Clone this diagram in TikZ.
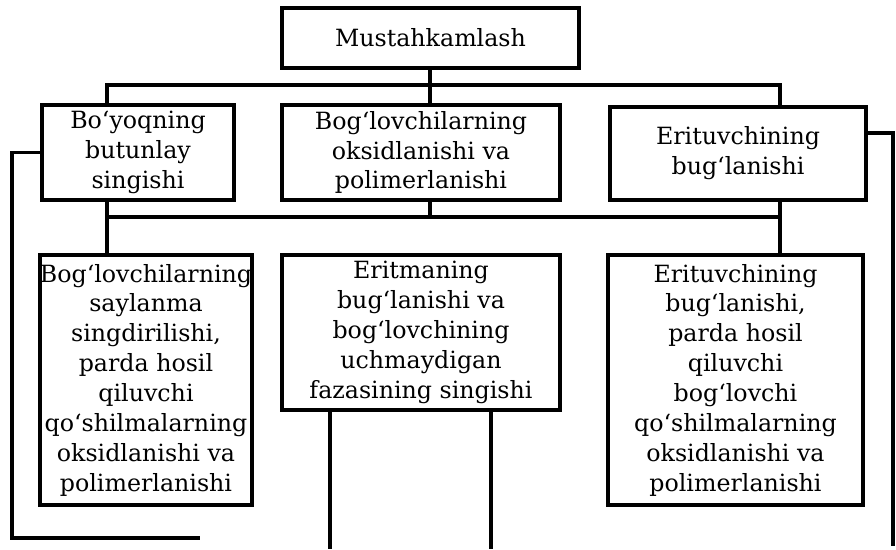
\documentclass[tikz,border=0pt]{standalone}
\usepackage{fontspec}
\setmainfont{DejaVu Serif}
\begin{document}
\begin{tikzpicture}[x=0.02cm,y=-0.02cm,line width=2pt,
    blok/.style={draw,align=center,inner sep=0pt,font=\fontsize{13.5}{17}\selectfont}]
  \useasboundingbox (0,0) rectangle (896,549);

  % Top box
  \node [blok,minimum width=5.94cm,minimum height=1.2cm] (top) at (430.5,38) {Mustahkamlash};

  % Middle row
  \node [blok,minimum width=3.84cm,minimum height=1.9cm] (b1) at (138,152.5) {Bo‘yoqning\\ butunlay\\ singishi};
  \node [blok,minimum width=5.56cm,minimum height=1.9cm] (b2) at (421,152.5) {Bog‘lovchilarning\\ oksidlanishi va\\ polimerlanishi};
  \node [blok,minimum width=5.12cm,minimum height=1.86cm] (b3) at (738,153.5) {Erituvchining\\ bug‘lanishi};

  % Bottom row
  \node [blok,minimum width=4.16cm,minimum height=5cm] (b4) at (146,380) {Bog‘lovchilarning\\ saylanma\\ singdirilishi,\\ parda hosil\\ qiluvchi\\ qo‘shilmalarning\\ oksidlanishi va\\ polimerlanishi};
  \node [blok,minimum width=5.56cm,minimum height=3.1cm] (b5) at (421,332.5) {Eritmaning\\ bug‘lanishi va\\ bog‘lovchining\\ uchmaydigan\\ fazasining singishi};
  \node [blok,minimum width=5.1cm,minimum height=5cm] (b6) at (735.5,380) {Erituvchining\\ bug‘lanishi,\\ parda hosil\\ qiluvchi\\ bog‘lovchi\\ qo‘shilmalarning\\ oksidlanishi va\\ polimerlanishi};

  % Helper coordinates
  \coordinate (xl) at (107,0);
  \coordinate (xm) at (430,0);
  \coordinate (xr) at (780,0);
  \coordinate (busA) at (430,85);
  \coordinate (busB) at (430,217);

  % Upper bus
  \draw (xm |- top.south) -- (xm |- b2.north);
  \draw (xl |- b1.north) |- (busA) -| (xr |- b3.north);

  % Lower bus
  \draw (xl |- b1.south) -- (xl |- b4.north);
  \draw (xr |- b3.south) -- (xr |- b6.north);
  \draw (xm |- b2.south) -- (busB);
  \draw (xl |- busB) -- (xr |- busB);

  % Left loop
  \coordinate (lp) at (12,538);
  \coordinate (lpend) at (200,538);
  \draw (b1.west) -| (lp) -- (lpend);

  % Right loop
  \coordinate (rp) at (893,133);
  \coordinate (rpend) at (893,546);
  \draw (b3.east |- rp) -- (rp) -- (rpend);

  % Lines below the middle box
  \coordinate (d1) at (330,549);
  \coordinate (d2) at (491,549);
  \draw (b5.south -| d1) -- (d1);
  \draw (b5.south -| d2) -- (d2);
\end{tikzpicture}
\end{document}
